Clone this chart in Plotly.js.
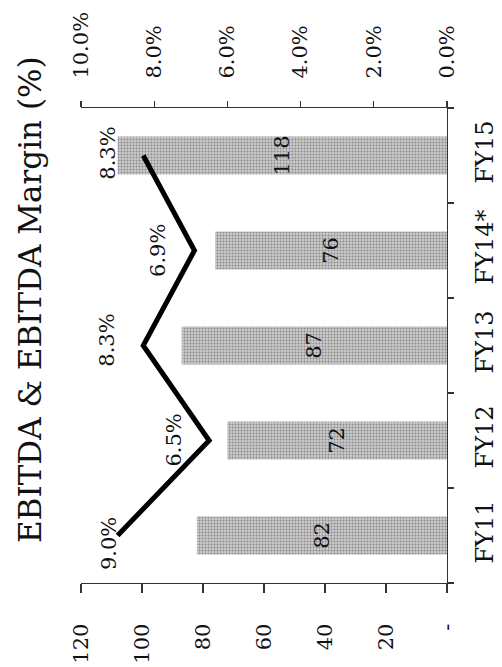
<!DOCTYPE html>
<html>
<head>
<meta charset="utf-8">
<script src="https://cdn.plot.ly/plotly-3.0.1.min.js"></script>
<style>html,body{margin:0;padding:0;background:#fff;}#chart{width:502px;height:667px;}</style>
</head>
<body>
<div id="chart"></div>
<script>
const categories = ['FY11', 'FY12', 'FY13', 'FY14*', 'FY15'];
const ebitda = [82, 72, 87, 76, 108];
const ebitdaLabels = ['82', '72', '87', '76', '118'];
const margin = [9.0, 6.5, 8.3, 6.9, 8.3];
const marginLabels = ['9.0%', '6.5%', '8.3%', '6.9%', '8.3%'];
const valueTicks = [0, 20, 40, 60, 80, 100, 120];
const valueTickText = ['-', '20', '40', '60', '80', '100', '120'];
const pctTicks = [0, 2, 4, 6, 8, 10];
const pctTickText = ['0.0%', '2.0%', '4.0%', '6.0%', '8.0%', '10.0%'];

const FONT = 'DejaVu Serif, Liberation Serif, serif';

const bars = {
  type: 'bar', orientation: 'h',
  x: ebitda, y: categories,
  width: 0.4,
  text: ebitdaLabels, textposition: 'inside', insidetextanchor: 'middle', textangle: -90,
  constraintext: 'none',
  textfont: {family: FONT, size: 21, color: '#111'},
  marker: {color: '#c4c4c4', line: {width: 0},
    pattern: {shape: '.', fgcolor: '#8a8a8a', bgcolor: '#cbcbcb', size: 3, solidity: 0.35}},
  hoverinfo: 'skip', cliponaxis: false
};
const line = {
  type: 'scatter', mode: 'lines',
  x: margin, y: categories, xaxis: 'x2', yaxis: 'y',
  line: {color: '#000', width: 5},
  hoverinfo: 'skip', cliponaxis: false
};

const shifts = [[-9, -8], [-36, 0], [-37, 5], [-37, 0], [-36, 2]];
const annotations = margin.map((m, i) => ({
  xref: 'x2', yref: 'y', x: m, y: categories[i],
  text: marginLabels[i], showarrow: false, textangle: -90,
  xshift: shifts[i][0], yshift: shifts[i][1],
  font: {family: FONT, size: 21, color: '#111'}
}));
annotations.push({
  xref: 'paper', yref: 'paper', x: -0.139, y: 0.596,
  xanchor: 'center', yanchor: 'middle',
  text: 'EBITDA & EBITDA Margin (%)', showarrow: false, textangle: -90,
  font: {family: FONT, size: 31, color: '#111'}
});

const axisCommon = {
  showgrid: false, zeroline: false, showline: true, linecolor: '#333', linewidth: 1.2,
  ticks: 'outside', tickcolor: '#333', tickwidth: 1.2, tickangle: -90,
  tickfont: {family: FONT, size: 21, color: '#111'}
};

const layout = {
  width: 502, height: 667,
  margin: {l: 81, r: 55, t: 108, b: 84, pad: 0},
  paper_bgcolor: '#fff', plot_bgcolor: '#fff',
  showlegend: false,
  font: {family: FONT, color: '#111'},
  xaxis: Object.assign({}, axisCommon, {
    range: [120, 0], tickvals: valueTicks, ticktext: valueTickText,
    ticklen: 9, ticklabelstandoff: 22, fixedrange: true
  }),
  xaxis2: Object.assign({}, axisCommon, {
    overlaying: 'x', side: 'top', range: [10, 0],
    tickvals: pctTicks, ticktext: pctTickText,
    ticklen: 6, ticklabelstandoff: 18, fixedrange: true
  }),
  yaxis: Object.assign({}, axisCommon, {
    type: 'category', categoryorder: 'array', categoryarray: categories,
    range: [-0.5, 4.5], side: 'right', tickson: 'boundaries',
    ticklen: 6, ticklabelstandoff: 16,
    tickfont: {family: FONT, size: 24, color: '#111'}, fixedrange: true
  }),
  annotations: annotations
};

Plotly.newPlot('chart', [bars, line], layout, {displayModeBar: false, staticPlot: true});
</script>
</body>
</html>
